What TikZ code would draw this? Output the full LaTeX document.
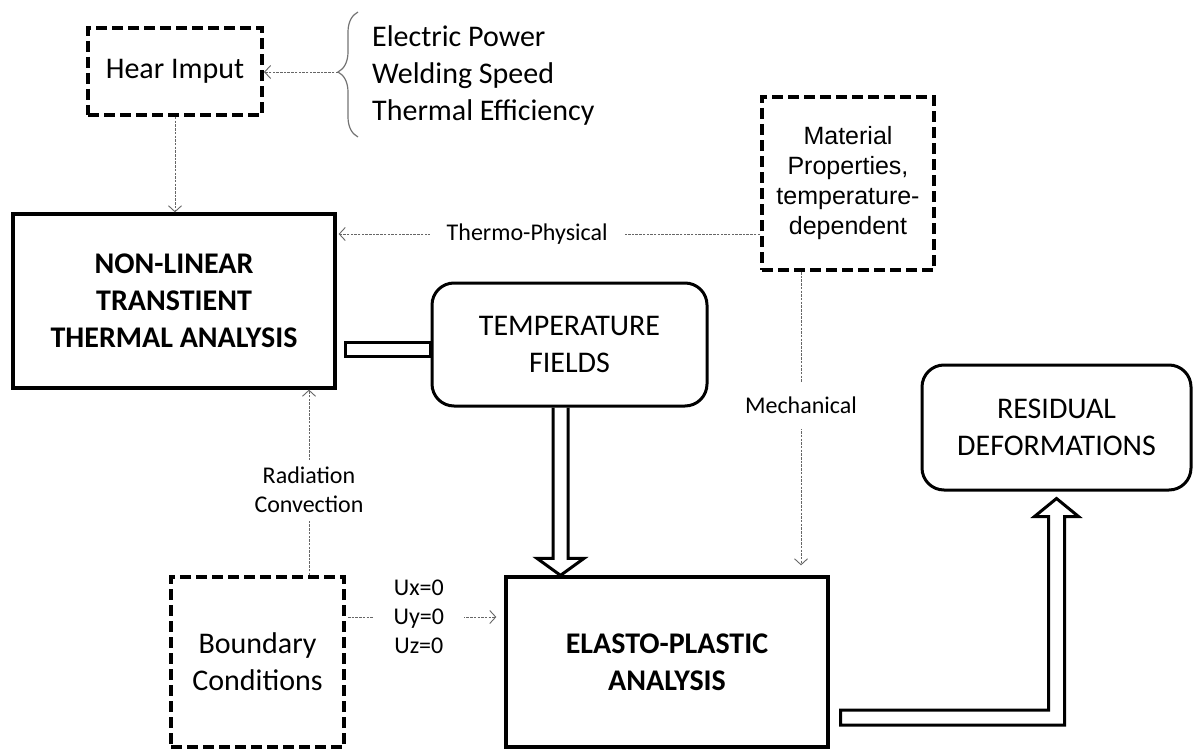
\documentclass[tikz,border=0pt]{standalone}
\usepackage{fontspec}
\setmainfont{Carlito}
\newfontfamily\arialfont{Liberation Sans}
\usetikzlibrary{arrows.meta,calc,decorations.pathreplacing}
\tikzset{
  thickbox/.style={draw, line width=3.3pt, align=center, inner sep=0pt,
                   font=\bfseries\fontsize{30}{37}\selectfont},
  roundbox/.style={draw, line width=3pt, rounded corners=22pt, align=center,
                   inner sep=0pt, font=\fontsize{30}{37}\selectfont},
  dashbox/.style ={draw, line width=4pt, dash pattern=on 11pt off 5pt,
                   align=center, inner sep=0pt, font=\fontsize{30}{37}\selectfont},
  conn/.style    ={draw=black!60, line width=0.9pt, dash pattern=on 2.5pt off 1.2pt,
                   -{Straight Barb[length=6pt,width=13pt,line width=0.9pt]}},
  lbl/.style     ={fill=white, align=center, inner sep=8pt,
                   font=\fontsize{24}{29}\selectfont},
  fat/.style     ={line width=3pt, line join=miter},
}
\begin{document}
\begin{tikzpicture}[x=1pt, y=-1pt]
\useasboundingbox (0,0) rectangle (1193,749);

\node[dashbox, minimum width=174pt, minimum height=87pt] (heat) at (175,71.5) {Hear Imput};
\node[anchor=west, align=left, inner sep=0pt, font=\fontsize{30}{37}\selectfont] (params) at (372,76)
  {Electric Power\\Welding Speed\\Thermal Efficiency};
\node[thickbox, minimum width=322pt, minimum height=174pt] (nl) at (174,301)
  {NON-LINEAR\\TRANSTIENT\\THERMAL ANALYSIS};
\node[roundbox, minimum width=275pt, minimum height=123pt] (tf) at (569.5,344.5)
  {TEMPERATURE\\FIELDS};
\node[dashbox, minimum width=172pt, minimum height=173pt, font=\arialfont\fontsize{25}{30}\selectfont] (mat) at (848,183.5)
  {Material\\Properties,\\temperature-\\dependent};
\node[roundbox, minimum width=269pt, minimum height=125pt] (rd) at (1056.5,427.5)
  {RESIDUAL\\DEFORMATIONS};
\node[thickbox, minimum width=322pt, minimum height=170pt] (ep) at (667,662)
  {ELASTO-PLASTIC\\ANALYSIS};
\node[dashbox, minimum width=173pt, minimum height=170pt] (bc) at (257.5,662)
  {Boundary\\Conditions};

\draw[black!55, line width=1.2pt, decorate, decoration={brace, amplitude=20pt, aspect=0.52}]
  (358,137) -- (358,12);
\coordinate (bt) at (338,72);
\path ($(mat.west)+(0,50.5)$) coordinate (tpr);
\path ($(mat.south)+(-47,0)$) coordinate (mch);
\path ($(bc.north)+(51.5,0)$) coordinate (rcv);
\path ($(bc.east)+(0,-45)$) coordinate (ubc);

\draw[conn] (bt) -- (bt -| heat.east);
\draw[conn] (heat.south) -- (heat.south |- nl.north);
\draw[conn, shorten >=2pt] (tpr) -- (tpr -| nl.east)
  node[lbl, pos=0.55, inner xsep=17pt] {Thermo-Physical};
\draw[conn, shorten >=10pt] (mch) -- (mch |- ep.north)
  node[lbl, pos=0.44, inner ysep=15pt] {Mechanical};
\draw[conn] (rcv) -- (rcv |- nl.south)
  node[lbl, pos=0.46, inner ysep=7pt] {Radiation\\Convection};
\draw[conn, shorten >=8pt, shorten <=2pt] (ubc) -- (ubc -| ep.west)
  node[lbl, pos=0.46, inner xsep=20pt] {Ux=0\\Uy=0\\Uz=0};

\draw[fat] ($(nl.east)+(9,41)$) rectangle ($(tf.west)+(0,11.5)$);
\draw[fat] ($(tf.south)+(-16.5,0)$) -- ($(tf.south |- ep.north)+(-16.5,-17)$) -- ++(-16,0)
  -- ($(tf.south |- ep.north)+(-9,0)$) -- ($(tf.south |- ep.north)+(14.5,-17)$) -- ++(-16,0)
  -- ($(tf.south)+(-1.5,0)$);
\draw[fat] ($(ep.east)+(11,48)$) -- ($(rd.south |- ep.east)+(-8,48)$) -- ($(rd.south)+(-8,25)$)
  -- ++(-14,0) -- ($(rd.south)+(0,7)$) -- ($(rd.south)+(22,25)$) -- ++(-14,0)
  -- ($(rd.south |- ep.east)+(8,63)$) -- ($(ep.east)+(11,63)$) -- cycle;

\end{tikzpicture}
\end{document}
